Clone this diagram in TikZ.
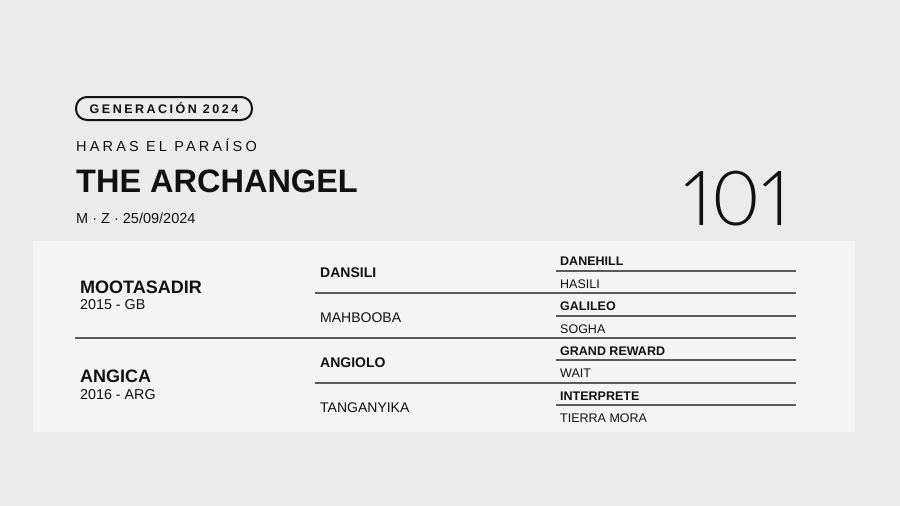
\documentclass[tikz,border=0pt]{standalone}
\usepackage{fontspec}
\usepackage{xcolor}
\setmainfont{Liberation Sans}
\newfontfamily\thinfont[Numbers=Proportional]{Lato Light}
\newfontfamily\spacedfont[LetterSpace=22]{Liberation Sans}
\newfontfamily\badgefont[LetterSpace=20]{Liberation Sans}

\definecolor{bgcol}{HTML}{EBEBEB}
\definecolor{panelcol}{HTML}{F4F4F4}
\definecolor{inkcol}{HTML}{111111}
\definecolor{rulecol}{HTML}{5A5A5A}

\tikzset{
  txt/.style={anchor=base west, inner sep=0pt, text=inkcol},
  parent/.style={txt, font=\bfseries\fontsize{18}{20}\selectfont},
  born/.style={txt, font=\fontsize{14.3}{17}\selectfont},
  grand/.style={txt, font=\fontsize{14}{17}\selectfont},
  grandb/.style={txt, font=\bfseries\fontsize{14}{17}\selectfont},
  great/.style={txt, font=\fontsize{12.5}{15}\selectfont},
  greatb/.style={txt, font=\bfseries\fontsize{12.5}{15}\selectfont},
  rule/.style={draw=rulecol, line width=1.2pt}
}

\begin{document}
\begin{tikzpicture}[x=1pt,y=-1pt]
  \fill[bgcol] (0,0) rectangle (900,506);
  \useasboundingbox (0,0) rectangle (900,506);
  \fill[panelcol] (33,241) rectangle (855,432);

  % header
  \node[draw=inkcol, line width=2pt, rounded corners=11pt, minimum width=176pt,
        minimum height=23pt, inner sep=0pt, text=inkcol,
        font=\badgefont\bfseries\fontsize{12.5}{14}\selectfont] (badge) at (164,108.5) {GENERACIÓN 2024};
  \node[txt, font=\spacedfont\fontsize{14.5}{17}\selectfont] (stud) at (76,151) {HARAS EL PARAÍSO};
  \node[txt, font=\bfseries\fontsize{32.5}{36}\selectfont] (name) at (76,192) {THE ARCHANGEL};
  \node[txt, font=\fontsize{14.5}{17}\selectfont] (info) at (76,223) {M · Z · 25/09/2024};
  \node[anchor=base east, inner sep=0pt, text=inkcol, font=\thinfont\fontsize{76}{80}\selectfont] (lot) at (790,225) {101};

  % rules
  \draw[rule] (75,338) -- (796,338);
  \draw[rule] (315,293) -- (796,293);
  \draw[rule] (315,383) -- (796,383);
  \foreach \y in {271,316,360,405}
    \draw[rule] (556,\y) -- (796,\y);

  % parents
  \node[parent] (sire) at (80,293) {MOOTASADIR};
  \node[born] (sireborn) at (80,309) {2015 - GB};
  \node[parent] (dam) at (80,382) {ANGICA};
  \node[born] (damborn) at (80,399) {2016 - ARG};

  % grandparents
  \node[grandb] (ss) at (320,277) {DANSILI};
  \node[grand] (sd) at (320,322) {MAHBOOBA};
  \node[grandb] (ds) at (320,367) {ANGIOLO};
  \node[grand] (dd) at (320,412) {TANGANYIKA};

  % great grandparents
  \node[greatb] (sss) at (560,265) {DANEHILL};
  \node[great] (ssd) at (560,288) {HASILI};
  \node[greatb] (sds) at (560,310) {GALILEO};
  \node[great] (sdd) at (560,333) {SOGHA};
  \node[greatb] (dss) at (560,355) {GRAND REWARD};
  \node[great] (dsd) at (560,377) {WAIT};
  \node[greatb] (dds) at (560,400) {INTERPRETE};
  \node[great] (ddd) at (560,422) {TIERRA MORA};
\end{tikzpicture}
\end{document}
